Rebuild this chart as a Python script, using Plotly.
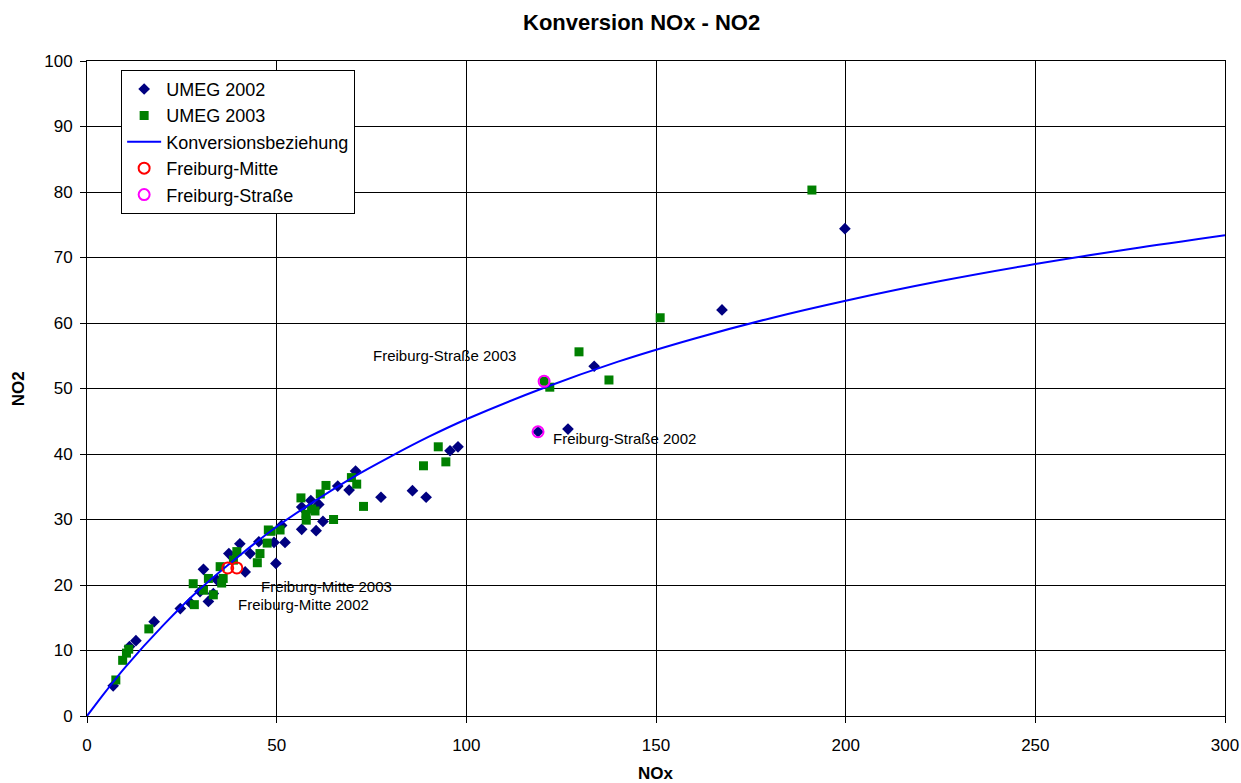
import plotly.graph_objects as go

# UMEG 2002 measurements (NOx, NO2)
umeg2002_nox = [6.9, 11.2, 12.9, 17.7, 24.6, 27.2, 29.8, 32.0, 33.3, 34.2, 30.7, 37.4, 40.3,
                41.7, 43.0, 45.3, 49.3, 49.8, 51.3, 52.2, 56.6, 56.6, 59.0, 60.4, 61.1, 62.2,
                66.1, 69.1, 70.8, 77.5, 85.8, 89.4, 95.7, 97.8, 118.9, 126.8, 133.7, 167.4, 199.8]
umeg2002_no2 = [4.6, 10.6, 11.5, 14.4, 16.4, 17.3, 19.0, 17.5, 18.7, 20.8, 22.4, 24.8, 26.3,
                22.0, 24.8, 26.6, 26.5, 23.3, 29.1, 26.5, 31.9, 28.5, 32.9, 28.3, 32.3, 29.7,
                35.1, 34.5, 37.4, 33.4, 34.4, 33.4, 40.5, 41.1, 43.4, 43.8, 53.4, 62.0, 74.4]

# UMEG 2003 measurements (NOx, NO2)
umeg2003_nox = [7.6, 9.4, 10.4, 11.0, 16.3, 28.0, 28.3, 30.7, 32.0, 33.3, 35.1, 35.5, 35.9,
                38.6, 39.5, 44.9, 45.6, 47.5, 47.8, 48.5, 50.9, 56.4, 57.8, 57.7, 59.2, 60.1,
                61.5, 63.0, 65.0, 69.7, 71.1, 72.9, 88.7, 92.6, 94.6, 120.5, 122.0, 129.7,
                137.6, 151.1, 191.1]
umeg2003_no2 = [5.5, 8.5, 9.6, 10.2, 13.3, 20.2, 17.0, 19.2, 21.0, 18.5, 22.8, 20.3, 21.0,
                23.8, 25.1, 23.4, 24.8, 26.4, 28.4, 28.2, 28.4, 33.3, 29.9, 30.8, 31.6, 31.3,
                33.9, 35.2, 30.0, 36.4, 35.4, 32.0, 38.2, 41.1, 38.8, 51.1, 50.2, 55.6,
                51.3, 60.8, 80.3]

# Konversionsbeziehung
curve_nox = [0, 5, 10, 20, 30, 40, 50, 60, 70, 80, 90, 100, 120, 140, 160, 180, 200, 225, 250, 275, 300]
curve_no2 = [0, 3.8, 7.4, 13.8, 19.5, 24.4, 28.9, 32.8, 36.4, 39.6, 42.6, 45.3, 50.0, 54.1,
             57.6, 60.7, 63.4, 66.4, 69.0, 71.3, 73.4]

# Freiburg stations
mitte_nox = [37.1, 39.5]
mitte_no2 = [22.6, 22.6]
strasse_nox = [118.9, 120.5]
strasse_no2 = [43.4, 51.1]

# Annotation labels
label_text = ["Freiburg-Mitte 2003", "Freiburg-Mitte 2002", "Freiburg-Straße 2003", "Freiburg-Straße 2002"]
label_x = [45.3, 39.3, 74.9, 122.3]
label_y = [19.7, 17.1, 55.1, 42.3]

FONT = "Liberation Sans, Arial, sans-serif"

fig = go.Figure()
fig.add_trace(go.Scatter(x=umeg2002_nox, y=umeg2002_no2, mode="markers", name="UMEG 2002",
                         marker=dict(symbol="diamond", size=9, color="#000080", line=dict(width=0))))
fig.add_trace(go.Scatter(x=umeg2003_nox, y=umeg2003_no2, mode="markers", name="UMEG 2003",
                         marker=dict(symbol="square", size=9, color="#008000", line=dict(width=0))))
fig.add_trace(go.Scatter(x=curve_nox, y=curve_no2, mode="lines", name="Konversionsbeziehung",
                         line=dict(color="#0000FF", width=2, shape="spline")))
fig.add_trace(go.Scatter(x=mitte_nox, y=mitte_no2, mode="markers", name="Freiburg-Mitte",
                         marker=dict(symbol="circle-open", size=11, color="#FF0000", line=dict(width=2, color="#FF0000"))))
fig.add_trace(go.Scatter(x=strasse_nox, y=strasse_no2, mode="markers", name="Freiburg-Straße",
                         marker=dict(symbol="circle-open", size=11, color="#FF00FF", line=dict(width=2, color="#FF00FF"))))

for t, x, y in zip(label_text, label_x, label_y):
    fig.add_annotation(x=x, y=y, text=t, showarrow=False, xanchor="left", yanchor="middle",
                       font=dict(family=FONT, size=15, color="black"))

# Axis titles as annotations (paper coordinates)
fig.add_annotation(x=0.5, y=-0.088, xref="paper", yref="paper", text="<b>NOx</b>", showarrow=False,
                   xanchor="center", yanchor="middle", font=dict(family=FONT, size=17, color="black"))
fig.add_annotation(x=-0.06, y=0.5, xref="paper", yref="paper", text="<b>NO2</b>", showarrow=False,
                   textangle=-90, xanchor="center", yanchor="middle", font=dict(family=FONT, size=17, color="black"))

axis_common = dict(showgrid=True, gridcolor="black", gridwidth=1, showline=True, linecolor="black",
                   linewidth=1, mirror=True, ticks="outside", ticklen=6, tickcolor="black",
                   zeroline=False, automargin=False, tickfont=dict(family=FONT, size=17, color="black"))

fig.update_layout(
    width=1241, height=783,
    margin=dict(l=87, r=16, t=61, b=67),
    paper_bgcolor="white", plot_bgcolor="white",
    font=dict(family=FONT, color="black"),
    title=dict(text="<b>Konversion NOx - NO2</b>", x=0.517, xanchor="center", y=0.972, yanchor="middle",
               font=dict(family=FONT, size=22, color="black")),
    xaxis=dict(range=[0, 300], dtick=50, tick0=0, ticklabelstandoff=8, **axis_common),
    yaxis=dict(range=[0, 100], dtick=10, tick0=0, ticklabelstandoff=4, **axis_common),
    legend=dict(x=0.03, y=0.9866, xanchor="left", yanchor="top", bgcolor="white",
                bordercolor="black", borderwidth=1, font=dict(family=FONT, size=18, color="black"),
                itemwidth=34),
    showlegend=True,
)

fig.write_html("out.html")
